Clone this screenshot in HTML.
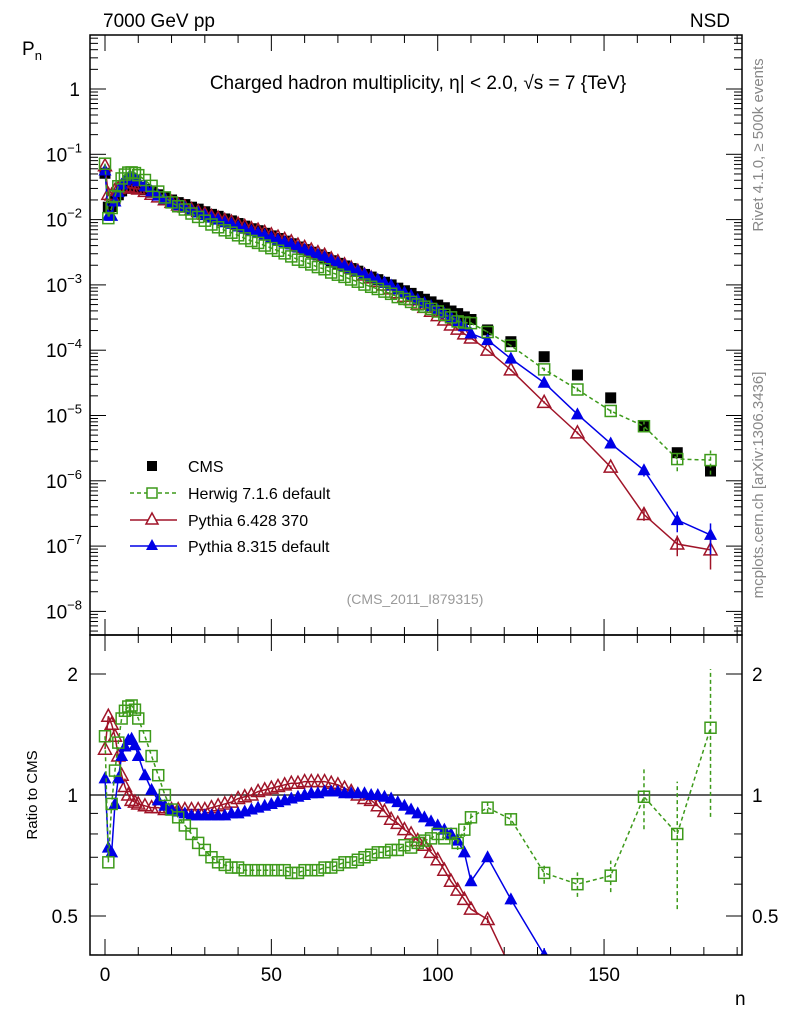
<!DOCTYPE html>
<html><head><meta charset="utf-8">
<style>
html,body{margin:0;padding:0;background:#fff;width:786px;height:1024px;overflow:hidden;}
svg{display:block;font-family:"Liberation Sans",sans-serif;}
</style></head>
<body>
<svg id="chart" width="786" height="1024" viewBox="0 0 786 1024" xmlns="http://www.w3.org/2000/svg">
<defs>
<clipPath id="clipTop"><rect x="90" y="35" width="652" height="600"/></clipPath>
<clipPath id="clipRat"><rect x="90" y="635" width="652" height="320"/></clipPath>
</defs>
<rect x="0" y="0" width="786" height="1024" fill="#fff"/>
<g id="axes"></g>
<g id="topMarks" clip-path="url(#clipTop)"></g>
<g id="ratMarks" clip-path="url(#clipRat)"></g>
<rect x="90" y="35" width="652" height="600" fill="none" stroke="#000" stroke-width="1.5"/>
<rect x="90" y="635" width="652" height="320" fill="none" stroke="#000" stroke-width="1.5"/>
<text x="103" y="27" font-size="19">7000 GeV pp</text>
<text x="730" y="27" font-size="19" text-anchor="end">NSD</text>
<text x="22" y="55" font-size="19">P<tspan font-size="13" dy="5">n</tspan></text>
<text x="418" y="89" font-size="19" text-anchor="middle">Charged hadron multiplicity, η| &lt; 2.0, √s = 7 {TeV}</text>
<text transform="translate(763,145) rotate(-90)" font-size="15" fill="#888" text-anchor="middle">Rivet 4.1.0, ≥ 500k events</text>
<text transform="translate(763,485) rotate(-90)" font-size="15" fill="#888" text-anchor="middle">mcplots.cern.ch [arXiv:1306.3436]</text>
<text x="415" y="604" font-size="14" fill="#999" text-anchor="middle">(CMS_2011_I879315)</text>
<text transform="translate(37,795) rotate(-90)" font-size="15" text-anchor="middle">Ratio to CMS</text>
<text x="735" y="1005" font-size="19">n</text>
<g id="legend">
<rect x="147" y="461" width="10" height="10" fill="#000"/>
<text x="188" y="472" font-size="16">CMS</text>
<line x1="130" y1="493" x2="177" y2="493" stroke="#3d9a1a" stroke-width="1.5" stroke-dasharray="4,3"/>
<rect x="147" y="488" width="10" height="10" fill="#fff" stroke="#3d9a1a" stroke-width="1.5"/>
<text x="188" y="499" font-size="16">Herwig 7.1.6 default</text>
<line x1="130" y1="520" x2="177" y2="520" stroke="#a01428" stroke-width="1.5"/>
<polygon points="152,513 158,524 146,524" fill="#fff" stroke="#a01428" stroke-width="1.5"/>
<text x="188" y="526" font-size="16">Pythia 6.428 370</text>
<line x1="130" y1="546" x2="177" y2="546" stroke="#0000e6" stroke-width="1.5"/>
<polygon points="152,539 158,550 146,550" fill="#0000e6"/>
<text x="188" y="552" font-size="16">Pythia 8.315 default</text>
</g>
</svg>
<script>
// ---- data ----
const nVals = [0,1,2,3,4,5,6,7,8,9,10,12,14,16,18,20,22,24,26,28,30,32,34,36,38,40,42,44,46,48,50,52,54,56,58,60,62,64,66,68,70,72,74,76,78,80,82,84,86,88,90,92,94,96,98,100,102,104,106,108,110,115,122,132,142,152,162,172,182];
const cmsLog10 = [-1.29,-1.81,-1.80,-1.70,-1.62,-1.56,-1.52,-1.50,-1.50,-1.50,-1.51,-1.54,-1.58,-1.62,-1.66,-1.70,-1.74,-1.77,-1.81,-1.84,-1.88,-1.92,-1.95,-1.99,-2.02,-2.06,-2.10,-2.14,-2.17,-2.21,-2.25,-2.29,-2.33,-2.37,-2.42,-2.46,-2.50,-2.54,-2.58,-2.63,-2.67,-2.71,-2.75,-2.79,-2.84,-2.88,-2.92,-2.96,-3.00,-3.05,-3.09,-3.13,-3.18,-3.22,-3.26,-3.31,-3.35,-3.40,-3.44,-3.49,-3.53,-3.69,-3.87,-4.10,-4.38,-4.73,-5.16,-5.57,-5.85];
const herwigRatio = [1.40,0.68,0.95,1.15,1.35,1.55,1.62,1.66,1.67,1.63,1.55,1.40,1.25,1.12,1.00,0.92,0.88,0.84,0.80,0.76,0.73,0.70,0.68,0.67,0.66,0.66,0.65,0.65,0.65,0.65,0.65,0.65,0.65,0.64,0.64,0.65,0.65,0.65,0.66,0.66,0.67,0.68,0.68,0.69,0.70,0.71,0.72,0.72,0.73,0.73,0.75,0.74,0.76,0.77,0.78,0.80,0.78,0.80,0.76,0.82,0.88,0.93,0.87,0.64,0.60,0.63,0.99,0.80,1.47];
const pythia6Ratio = [1.30,1.57,1.50,1.40,1.25,1.12,1.05,1.00,0.97,0.96,0.95,0.94,0.93,0.93,0.92,0.92,0.92,0.92,0.92,0.92,0.92,0.93,0.94,0.95,0.96,0.98,0.99,1.00,1.02,1.03,1.04,1.05,1.06,1.07,1.07,1.08,1.08,1.08,1.08,1.07,1.06,1.04,1.02,1.00,0.98,0.97,0.94,0.91,0.87,0.85,0.82,0.80,0.77,0.75,0.72,0.69,0.65,0.61,0.58,0.55,0.52,0.49,0.37,0.20,0.13,0.087,0.044,0.040,0.062];
const pythia8Ratio = [1.10,0.74,0.72,0.95,1.10,1.25,1.32,1.37,1.38,1.33,1.25,1.12,1.03,0.97,0.94,0.92,0.91,0.90,0.89,0.89,0.89,0.89,0.89,0.89,0.90,0.90,0.91,0.92,0.93,0.94,0.95,0.96,0.97,0.98,0.99,1.00,1.01,1.01,1.02,1.02,1.02,1.01,1.01,1.01,1.01,1.00,1.00,0.99,0.98,0.96,0.94,0.92,0.90,0.88,0.86,0.84,0.82,0.80,0.77,0.72,0.61,0.70,0.55,0.40,0.25,0.20,0.21,0.093,0.105];
const herwigRelErr = [0,0,0,0,0,0,0,0,0,0,0,0,0,0,0,0,0,0,0,0,0,0,0,0,0,0,0,0,0,0,0,0,0,0,0,0,0,0,0,0,0,0,0,0,0,0,0,0,0,0,0,0,0,0,0,0,0,0,0.04,0.04,0.04,0.03,0.03,0.06,0.07,0.09,0.17,0.35,0.40];
const modelRelErr = [0,0,0,0,0,0,0,0,0,0,0,0,0,0,0,0,0,0,0,0,0,0,0,0,0,0,0,0,0,0,0,0,0,0,0,0,0,0,0,0,0,0,0,0,0,0,0,0,0,0,0,0,0,0,0,0,0,0,0,0,0,0.02,0.03,0.04,0.05,0.06,0.2,0.35,0.5];
const xTicks = [0,50,100,150];
const yTopTicks = [0,-1,-2,-3,-4,-5,-6,-7,-8];
const yRatTicks = [2,1,0.5];

// ---- axes functions ----
const X = n => 105 + n*3.327;
const YT = l => 89 - l*65.3;
const YR = r => 795 - 121*Math.log2(r);
const NS = 'http://www.w3.org/2000/svg';
function mk(tag, attrs, parent){const e=document.createElementNS(NS,tag);for(const k in attrs)e.setAttribute(k,attrs[k]);parent.appendChild(e);return e;}
const axes = document.getElementById('axes');
const top_ = document.getElementById('topMarks');
const rat = document.getElementById('ratMarks');

for(let n=0; n<=190; n+=10){
  const major = n%50===0, L = major?16:8, x=X(n);
  [[955,-1],[635,1],[635,-1],[35,1]].forEach(([y,d])=>{
    const t=mk('line',{x1:x,x2:x,y1:y,y2:y+d*L,stroke:'#000','stroke-width':1},axes);
    
    
  });
}
xTicks.forEach(v=>{
  const t=mk('text',{x:X(v),y:981,'font-size':19,'text-anchor':'middle'},axes);
  t.textContent=v;
  
  
});
for(let d=1; d>=-9; d--){
  for(let m=1;m<=9;m++){
    const y=YT(d+Math.log10(m));
    if(y<35||y>635) continue;
    const L = m===1?16:8;
    [[90,1],[742,-1]].forEach(([x,s])=>{
      const t=mk('line',{x1:x,x2:x+s*L,y1:y,y2:y,stroke:'#000','stroke-width':1},axes);
      
      
    });
  }
}
yTopTicks.forEach(l=>{
  const t=mk('text',{x:l===0?80:82,y:YT(l)+7,'font-size':19,'text-anchor':'end'},axes);
  if(l===0){t.textContent='1';}
  else{t.textContent='10';const ts=mk('tspan',{dy:-9,'font-size':13},t);ts.textContent=String(l).replace('-','−');}
  
  
});
[0.4,0.5,0.6,0.7,0.8,0.9,1,2].forEach(v=>{
  const y=YR(v), L=(v===0.5||v===1||v===2)?16:8;
  [[90,1],[742,-1]].forEach(([x,s])=>{
    const t=mk('line',{x1:x,x2:x+s*L,y1:y,y2:y,stroke:'#000','stroke-width':1},axes);
    
    
  });
});
yRatTicks.forEach(v=>{
  [[78,'end'],[752,'start']].forEach(([x,a])=>{
    const t=mk('text',{x:x,y:YR(v)+7,'font-size':19,'text-anchor':a},axes);
    t.textContent=v;
    
    
  });
});
const one=mk('line',{x1:90,x2:742,y1:YR(1),y2:YR(1),stroke:'#000','stroke-width':1.2},rat);



function marker(g,type,x,y,color){
  let e;
  if(type==='fsq') e=mk('rect',{x:x-5.5,y:y-5.5,width:11,height:11,fill:color},g);
  else if(type==='osq') e=mk('rect',{x:x-5.5,y:y-5.5,width:11,height:11,fill:'none',stroke:color,'stroke-width':1.5},g);
  else if(type==='otri') e=mk('polygon',{points:`${x},${y-7} ${x+6.5},${y+5} ${x-6.5},${y+5}`,fill:'none',stroke:color,'stroke-width':1.5},g);
  else e=mk('polygon',{points:`${x},${y-7} ${x+6.5},${y+5} ${x-6.5},${y+5}`,fill:color},g);
  return e;
}
function series(name,ratio,err,color,type,dash){
  const gt=mk('g',{},top_), gr=mk('g',{},rat);
  
  
  
  
  const pt=[],pr=[];
  nVals.forEach((n,i)=>{
    const lv=cmsLog10[i]+Math.log10(ratio[i]);
    pt.push([X(n),YT(lv)]); pr.push([X(n),YR(ratio[i])]);
  });
  const attrs={fill:'none',stroke:color,'stroke-width':1.5};
  if(dash) attrs['stroke-dasharray']=dash;
  const lt=mk('polyline',Object.assign({points:pt.map(p=>p.join(',')).join(' ')},attrs),gt);
  
  
  const lr=mk('polyline',Object.assign({points:pr.map(p=>p.join(',')).join(' ')},attrs),gr);
  
  
  nVals.forEach((n,i)=>{
    if(err[i]>0){
      const r=ratio[i], e=err[i];
      const yl=YR(Math.max(r*(1-e),0.01)), yh=YR(r*(1+e));
      const eb=mk('line',Object.assign({x1:X(n),x2:X(n),y1:yl,y2:yh},attrs),gr);
      
      
      const lv=cmsLog10[i]+Math.log10(r);
      const et=mk('line',Object.assign({x1:X(n),x2:X(n),y1:YT(lv+Math.log10(Math.max(1-e,0.01))),y2:YT(lv+Math.log10(1+e))},attrs),gt);
      
      
    }
    const m1=marker(gt,type,pt[i][0],pt[i][1],color);
    
    
    const m2=marker(gr,type,pr[i][0],pr[i][1],color);
    
    
  });
}
const gc=mk('g',{},top_);


nVals.forEach((n,i)=>{
  const m=marker(gc,'fsq',X(n),YT(cmsLog10[i]),'#000');
  
  
});
series('pythia6',pythia6Ratio,modelRelErr,'#a01428','otri',null);
series('pythia8',pythia8Ratio,modelRelErr,'#0000e6','ftri',null);
series('herwig',herwigRatio,herwigRelErr,'#3d9a1a','osq','4,3');
</script>
</body></html>
